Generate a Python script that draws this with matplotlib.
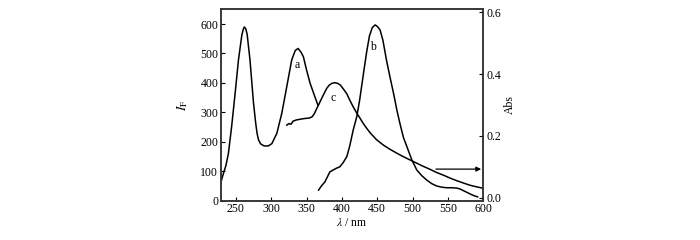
import matplotlib
matplotlib.use("Agg")
import matplotlib.pyplot as plt

# curve a: fluorescence (left axis)
a_nm = [229, 232.5, 236, 239.5, 244, 249, 253.7, 258.5, 260.5, 262, 264, 266, 270, 275,
        278, 280, 282, 285, 290, 296, 301, 308, 315, 322, 329, 334, 338, 342, 345.5,
        350, 355, 360, 366]
a_val = [64, 93, 120, 161, 251, 365, 478, 563, 582, 590, 584, 565, 478, 331,
         265, 229, 207, 193, 186, 186, 194, 229, 297, 387, 478, 510, 517, 505, 489,
         444, 399, 365, 325]

# curve b: fluorescence (left axis)
b_nm = [367, 371, 376, 383, 392, 397, 402, 407, 411, 416, 421, 425, 428, 431, 435, 439,
        443, 447, 450, 454, 458, 463, 468, 473, 478, 482, 487, 492, 499, 506, 513, 520,
        527, 534, 541, 548, 555, 562, 567, 572, 578, 583, 588, 592]
b_val = [36, 50, 64, 98, 110, 115, 130, 150, 185, 240, 285, 340, 390, 440, 505, 560,
         588, 597, 592, 580, 545, 478, 420, 365, 305, 263, 215, 183, 138, 104, 85, 70,
         58, 50, 46, 44, 44, 43, 40, 34, 27, 21, 16, 13]

# curve c: absorbance (right axis)
c_nm = [322, 325, 328, 331, 336, 341, 346, 350, 354, 358, 361, 364.5, 368, 371.5, 375,
        378.6, 382, 386, 390, 394, 398, 402, 407, 411.5, 416, 421, 426, 430, 435, 440,
        449, 459, 468, 478, 487, 497, 506, 515, 525, 534, 544, 553, 562, 572, 581, 590, 600]
c_abs = [0.235, 0.240, 0.238, 0.248, 0.252, 0.254, 0.256, 0.257, 0.258, 0.262, 0.272,
         0.289, 0.305, 0.322, 0.338, 0.354, 0.364, 0.370, 0.372, 0.370, 0.364, 0.352,
         0.336, 0.314, 0.294, 0.274, 0.256, 0.241, 0.225, 0.210, 0.188, 0.170, 0.157,
         0.144, 0.133, 0.122, 0.112, 0.102, 0.092, 0.082, 0.073, 0.064, 0.056, 0.048,
         0.041, 0.036, 0.031]

x_ticks = [250, 300, 350, 400, 450, 500, 550, 600]
yl_ticks = [0, 100, 200, 300, 400, 500, 600]
yr_ticks = [0.0, 0.2, 0.4, 0.6]

plt.rcParams['font.family'] = ['Liberation Serif', 'DejaVu Serif']
plt.rcParams['mathtext.fontset'] = 'stix'

fig = plt.figure(figsize=(7, 2.4), dpi=100)
ax = fig.add_axes([221/700, 1 - 200.7/240, (483.3 - 221)/700, (200.7 - 9.3)/240])
ax2 = ax.twinx()

lw = 1.1
ax.plot(a_nm, a_val, color='black', lw=lw)
ax.plot(b_nm, b_val, color='black', lw=lw)
ax2.plot(c_nm, c_abs, color='black', lw=lw)

ax.set_xlim(229, 600)
ax.set_ylim(0, 650)
ax2.set_ylim(-0.009, 0.609)

ax.set_xticks(x_ticks)
ax.set_yticks(yl_ticks)
ax2.set_yticks(yr_ticks)
ax2.set_yticklabels([f"{v:.1f}" for v in yr_ticks])

fs = 8.5
for a in (ax, ax2):
    a.tick_params(direction='in', length=3, width=0.8, labelsize=fs, pad=2)
    for s in a.spines.values():
        s.set_linewidth(1.1)
        s.set_color('#333333')

ax.set_xlabel(r'$\lambda$ / nm', fontsize=fs, labelpad=1)
ax.set_ylabel(r'$I_\mathrm{F}$', fontsize=fs + 1, labelpad=7)
ax2.set_ylabel('Abs', fontsize=fs, labelpad=2)

ax.text(337, 461, 'a', fontsize=fs, ha='center', va='center')
ax.text(444, 523, 'b', fontsize=fs, ha='center', va='center')
ax.text(388, 348, 'c', fontsize=fs, ha='center', va='center')

ax2.annotate('', xy=(597, 0.093), xytext=(533, 0.093),
             arrowprops=dict(arrowstyle='-|>', color='black', lw=0.9,
                             mutation_scale=7, shrinkA=0, shrinkB=0))

fig.savefig('out.png', dpi=100)
